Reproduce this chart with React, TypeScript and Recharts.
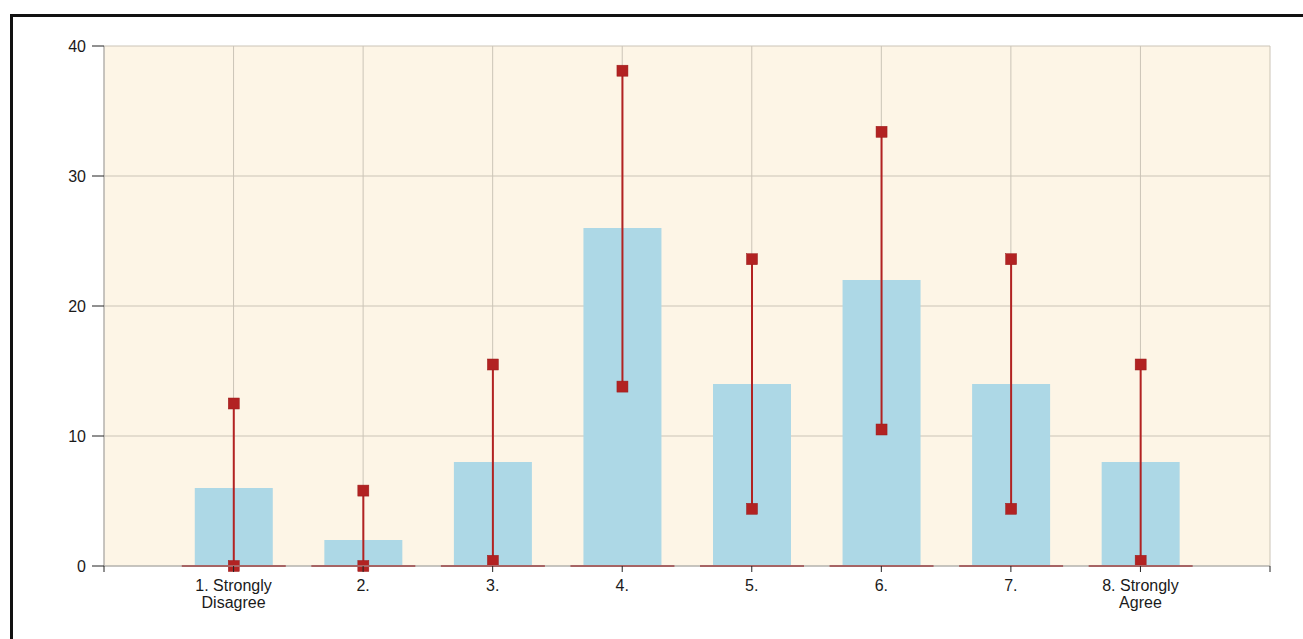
import { ComposedChart, Bar, XAxis, YAxis, CartesianGrid } from "recharts";

const categories = [
  "1. Strongly\nDisagree",
  "2.",
  "3.",
  "4.",
  "5.",
  "6.",
  "7.",
  "8. Strongly\nAgree",
];
const positions = [1, 2, 3, 4, 5, 6, 7, 8];
const percentages = [6, 2, 8, 26, 14, 22, 14, 8];
const lowerBounds = [0, 0, 0.4, 13.8, 4.4, 10.5, 4.4, 0.4];
const upperBounds = [12.5, 5.8, 15.5, 38.1, 23.6, 33.4, 23.6, 15.5];
const xTicks = [0, 1, 2, 3, 4, 5, 6, 7, 8, 9];
const yTicks = [0, 10, 20, 30, 40];

const data = positions.map((p, i) => ({
  pos: p,
  label: categories[i],
  value: percentages[i],
  range: [lowerBounds[i], upperBounds[i]],
}));

const RED = "#b22222";
const FONT = "'Liberation Sans', Arial, sans-serif";

interface ShapeProps {
  x?: number;
  y?: number;
  width?: number;
  height?: number;
}

// blue bar plus the short red segment on the baseline
const ValueBar = ({ x = 0, y = 0, width = 0, height = 0 }: ShapeProps) => {
  const cx = x + width / 2;
  const base = y + height;
  return (
    <g>
      <rect x={x} y={y} width={width} height={height} fill="#add8e6" />
      <line x1={cx - 52} x2={cx + 52} y1={base} y2={base} stroke="#a52020" strokeWidth={2} />
    </g>
  );
};

// vertical range line with square markers at both ends
const RangeMark = ({ x = 0, y = 0, width = 0, height = 0 }: ShapeProps) => {
  const cx = x + width / 2;
  const s = 11;
  return (
    <g>
      <line x1={cx} x2={cx} y1={y} y2={y + height} stroke={RED} strokeWidth={2} />
      <rect x={cx - s / 2} y={y - s / 2} width={s} height={s} fill={RED} stroke="#9a1c1c" strokeWidth={0.5} />
      <rect x={cx - s / 2} y={y + height - s / 2} width={s} height={s} fill={RED} stroke="#9a1c1c" strokeWidth={0.5} />
    </g>
  );
};

const XTick = ({ x, y, payload }: { x?: number; y?: number; payload?: { value: number } }) => {
  const idx = positions.indexOf(payload?.value ?? -1);
  if (idx < 0) return null;
  const lines = categories[idx].split("\n");
  return (
    <text x={x} y={y} textAnchor="middle" fontSize={16} fill="#1a1a1a" fontFamily={FONT}>
      {lines.map((l, i) => (
        <tspan key={i} x={x} dy={i === 0 ? 19 : 17}>
          {l}
        </tspan>
      ))}
    </text>
  );
};

export default function App() {
  return (
    <div
      style={{
        position: "fixed",
        left: 10,
        top: 14,
        width: 1300,
        height: 630,
        borderTop: "3px solid #111",
        borderLeft: "3px solid #111",
        background: "#fff",
        overflow: "hidden",
      }}
    >
      <ComposedChart
        width={1285}
        height={605}
        data={data}
        margin={{ top: 29, right: 28, left: 0, bottom: 6 }}
        style={{ fontFamily: FONT }}
      >
        <CartesianGrid stroke="#cbc4b7" fill="#fdf5e6" fillOpacity={1} />
        <XAxis
          dataKey="pos"
          type="number"
          domain={[0, 9]}
          ticks={xTicks}
          interval={0}
          height={50}
          tickSize={6}
          tickMargin={0}
          axisLine={{ stroke: "#a8a8a8" }}
          tickLine={{ stroke: "#222" }}
          tick={<XTick />}
        />
        <XAxis xAxisId="range" dataKey="pos" type="number" domain={[0, 9]} hide />
        <YAxis
          type="number"
          domain={[0, 40]}
          ticks={yTicks}
          width={91}
          tickSize={12}
          tickMargin={6}
          axisLine={{ stroke: "#a8a8a8" }}
          tickLine={{ stroke: "#222" }}
          tick={{ fontSize: 16, fill: "#1a1a1a" }}
        />
        <Bar dataKey="value" barSize={78} shape={<ValueBar />} isAnimationActive={false} />
        <Bar
          xAxisId="range"
          dataKey="range"
          barSize={12}
          shape={<RangeMark />}
          isAnimationActive={false}
        />
      </ComposedChart>
    </div>
  );
}
